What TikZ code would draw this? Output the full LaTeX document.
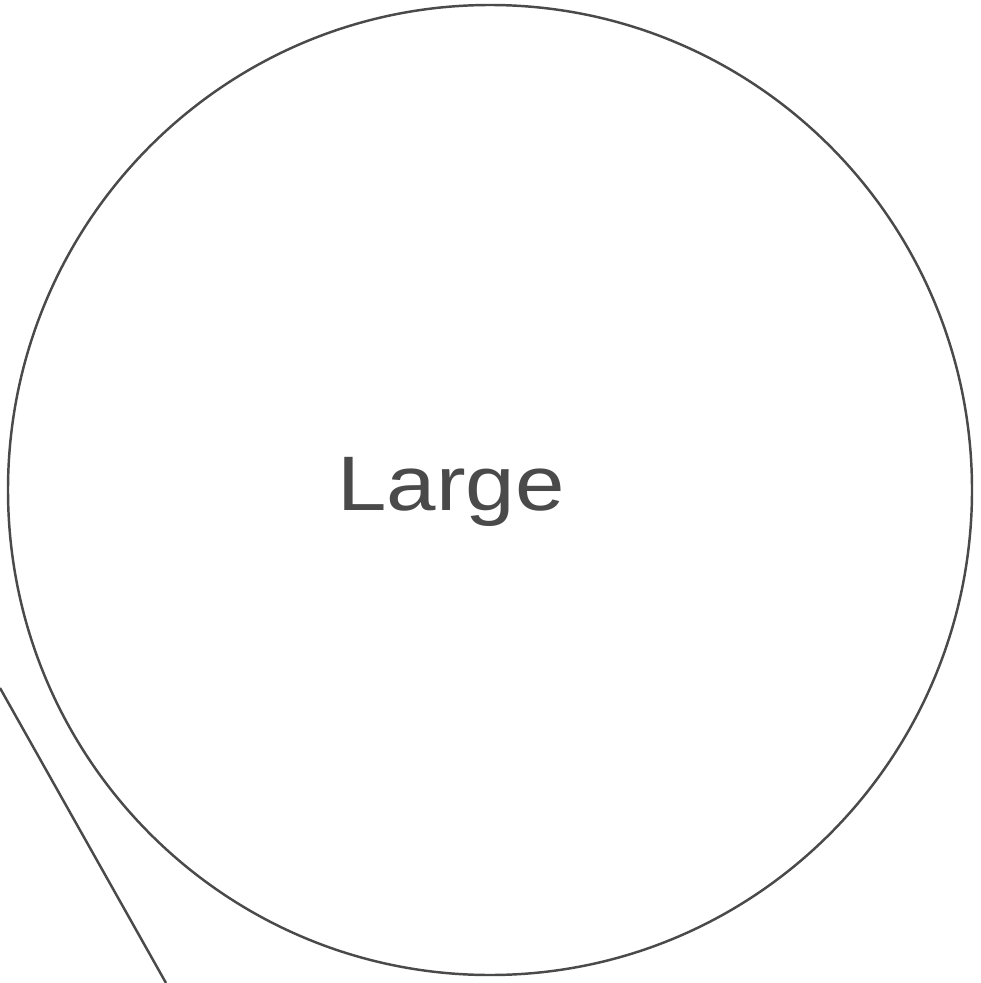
\documentclass[tikz,border=0pt]{standalone}
\usepackage{fontspec}
\setmainfont{Liberation Sans}
\usetikzlibrary{positioning}
\definecolor{Pencil_Gray}{HTML}{4A4A4A}

\begin{document}
\begin{tikzpicture}[x=0.02cm, y=-0.02cm]
    % Canvas
    \useasboundingbox (0,0) rectangle (980,983);

    % Big circle
    \draw[Pencil_Gray, line width=1.4pt] (490,490) ellipse [x radius=482, y radius=485];

    % Label
    \node[Pencil_Gray, font=\fontsize{44}{50}\selectfont, xscale=1.15] (large) at (451,492) {Large};

    % Line at lower left
    \coordinate (lineTop) at (0,688);
    \coordinate (lineEnd) at (166,983);
    \draw[Pencil_Gray, line width=1.4pt] (lineTop) -- (lineEnd);
\end{tikzpicture}
\end{document}
